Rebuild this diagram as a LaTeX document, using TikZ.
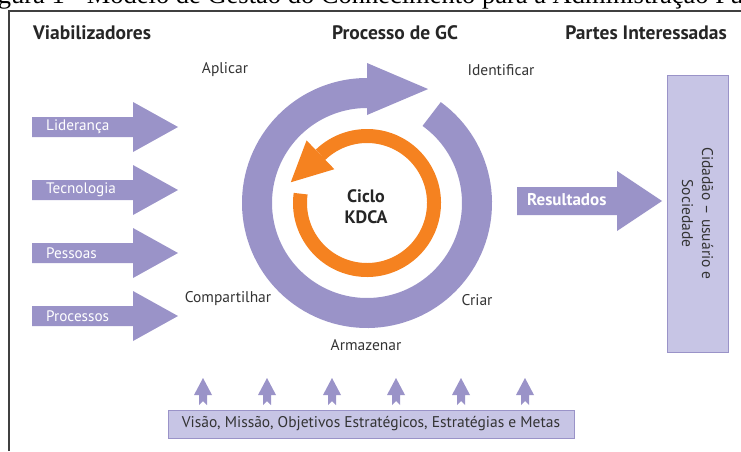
\documentclass[tikz,border=0pt]{standalone}
\usepackage{fontspec}
\setmainfont{PT Sans}
\newfontfamily\capfont{Liberation Serif}
\definecolor{gcviolet}{HTML}{9A93C8}
\definecolor{gclight}{HTML}{C7C5E5}
\definecolor{gcorange}{HTML}{F58220}
\definecolor{gctext}{HTML}{333333}
\begin{document}
\begin{tikzpicture}[x=1pt,y=1pt,
  lbl/.style={text=gctext,font=\fontsize{15.5}{20}\selectfont,inner sep=0pt},
  hdr/.style={text=black!85,font=\bfseries\fontsize{19.5}{21}\selectfont,inner sep=0pt},
  intxt/.style={text=white,font=\fontsize{15.2}{17}\selectfont,inner sep=0pt,anchor=west},
  gcbox/.style={draw=gcviolet,fill=gclight,line width=1pt,inner sep=0pt}]
\useasboundingbox (0,0) rectangle (741,451);
% caption, cut by the page
\node[font=\capfont\fontsize{26.5}{30}\selectfont,anchor=base west,inner sep=0pt]
  (cap) at (-24.5,447) {Figura 1 - Modelo de Gestão do Conhecimento para a Administração Pública};
\draw[line width=1.2pt,black!75] (9,0) -- (9,440) -- (741,440);
% headings
\node[hdr,anchor=west] (viab) at (33,418) {Viabilizadores};
\node[hdr] (proc) at (395,418) {Processo de GC};
\node[hdr,anchor=east] (partes) at (727,418) {Partes Interessadas};
% enablers
\foreach \y/\t [count=\i] in {324/Liderança,261/Tecnologia,198/Pessoas,135/Processos}{
  \fill[gcviolet] (32,\y-10) -- (133,\y-10) -- (133,\y-25) -- (178,\y)
    -- (133,\y+25) -- (133,\y+10) -- (32,\y+10) -- cycle;
  \node[intxt] (en\i) at (46,\y) {\t};
}
% cycle
\coordinate (C) at (367,248);
\draw[gcviolet,line width=30pt] (C) ++(54:110)
  arc[start angle=54,end angle=-270,radius=110];
\fill[gcviolet,shift={(C)}] (90:140) -- (61.8:129.3) -- (90:88) -- cycle;
\draw[gcorange,line width=14pt] (C) ++(172:67)
  arc[start angle=172,end angle=494,radius=67];
\fill[gcorange,shift={(C)}] (134:87) -- (164.8:79) -- (134:47) -- cycle;
\node[hdr,font=\bfseries\fontsize{18}{21}\selectfont,align=center] (kdca) at (366,244) {Ciclo\\KDCA};
\node[lbl] (aplicar) at (225,381) {Aplicar};
\node[lbl] (ident) at (501,381) {Identificar};
\node[lbl] (comp) at (228,152) {Compartilhar};
\node[lbl] (criar) at (477,151) {Criar};
\node[lbl] (armaz) at (366,106) {Armazenar};
% results
\node[gcbox,rotate=-90,minimum width=277,minimum height=61,
  lbl,align=center] (cid) at (697.5,237.5) {Cidadão – usuário e\\Sociedade};
\fill[gcviolet] (517,236) -- (617,236) -- (617,220) -- (662,250)
  -- (617,280) -- (617,264) -- (517,264) -- cycle;
\node[intxt,font=\bfseries\fontsize{17}{19}\selectfont] (res) at (527,251) {Resultados};
% strategy
\node[gcbox,lbl,minimum width=406,minimum height=28] (vis) at (371,27)
  {Visão, Missão, Objetivos Estratégicos, Estratégias e Metas};
\foreach \x in {203,267,332,396,461,525}
  \fill[gcviolet] (\x-4,46) -- (\x,50) -- (\x+4,46) -- (\x+4,56) -- (\x+9,56)
    -- (\x,73) -- (\x-9,56) -- (\x-4,56) -- cycle;
\end{tikzpicture}
\end{document}
